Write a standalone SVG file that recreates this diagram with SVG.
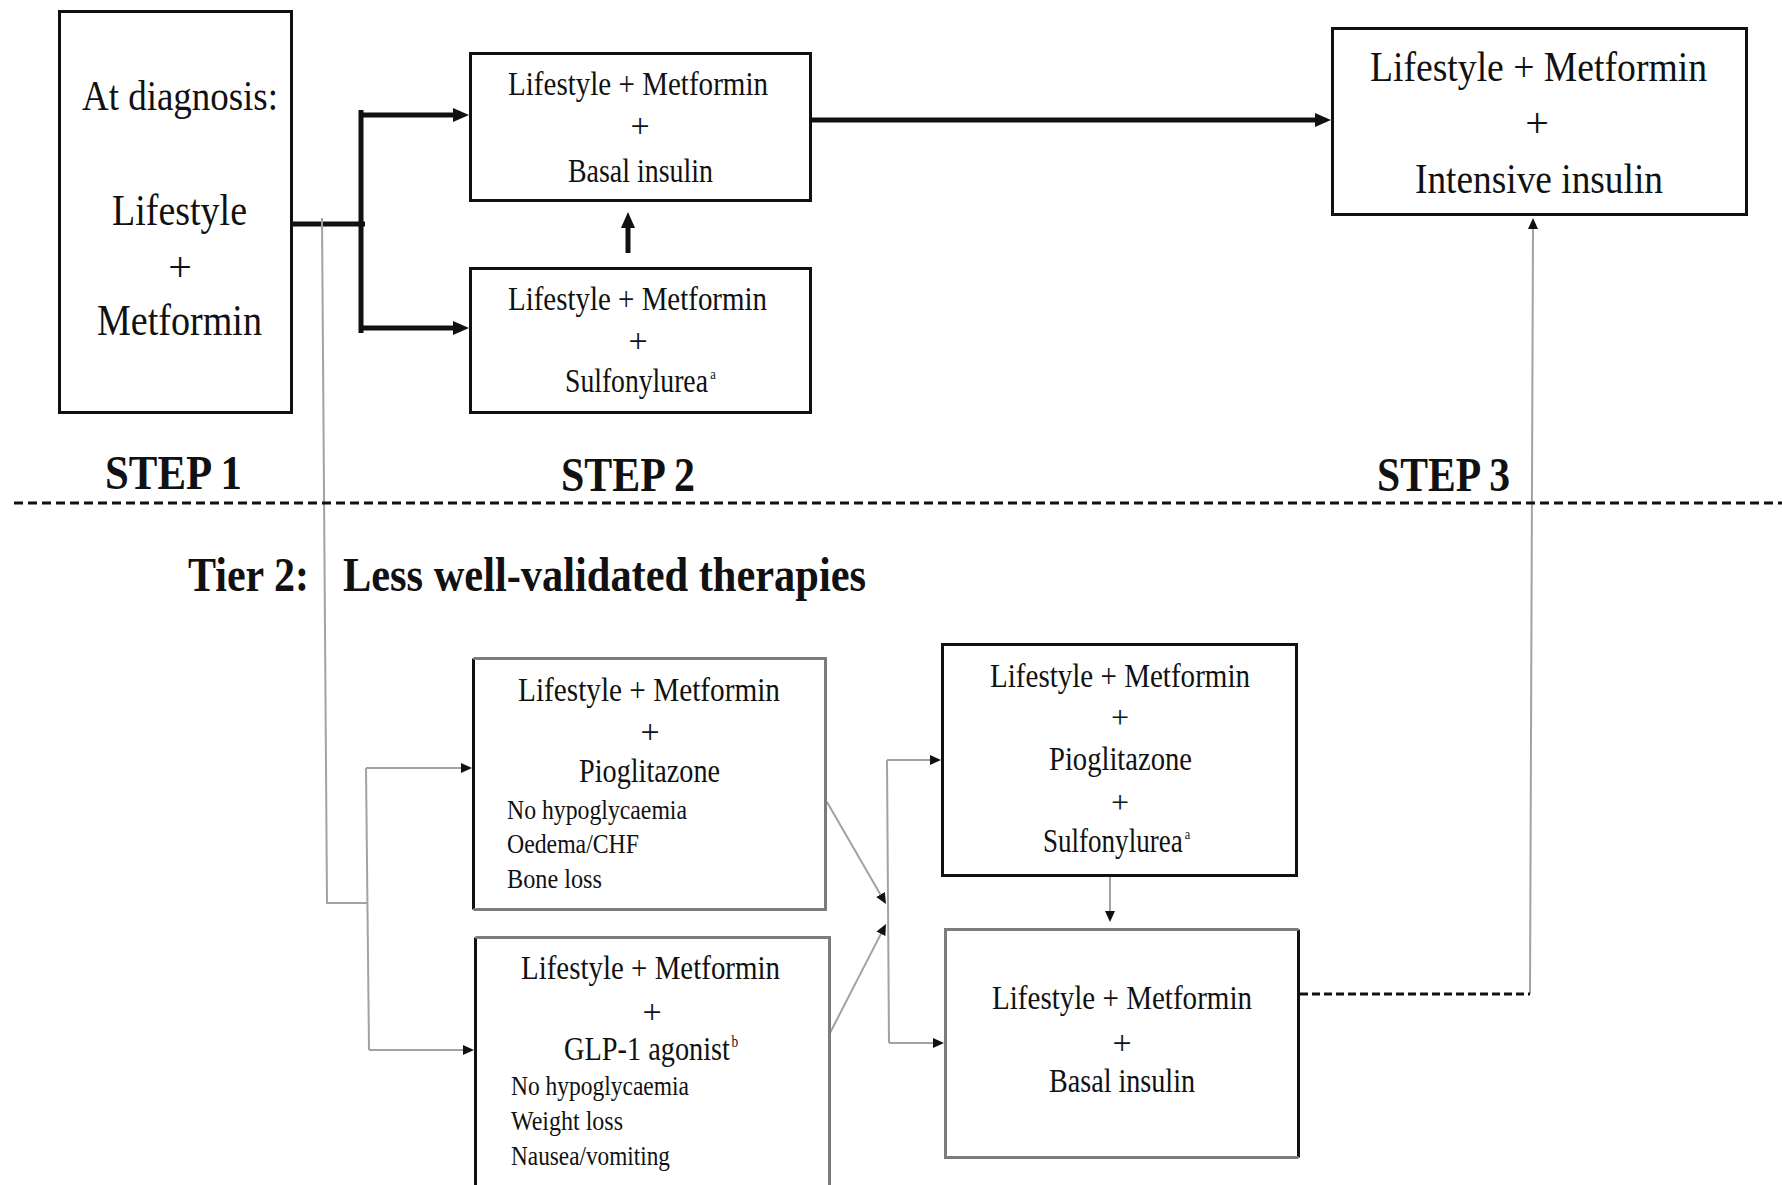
<svg xmlns="http://www.w3.org/2000/svg" width="1782" height="1185" viewBox="0 0 1782 1185">
<style>
.t{font-family:"Liberation Serif","Times New Roman",serif;fill:#111}
.b{font-weight:bold}
.box{fill:#fff;stroke:#111;stroke-width:3}
.ge{fill:none;stroke:#7c7c7c;stroke-width:3}
.thick{fill:none;stroke:#111;stroke-width:5}
.gray{fill:none;stroke:#a2a2a2;stroke-width:2}
.dash{fill:none;stroke:#111;stroke-width:3;stroke-dasharray:9 5}
</style>
<defs>
<marker id="big" markerUnits="userSpaceOnUse" markerWidth="16" markerHeight="14" viewBox="0 0 16 14" refX="2" refY="7" orient="auto"><path d="M0,0 L16,7 L0,14 z" fill="#111"/></marker>
<marker id="small" markerUnits="userSpaceOnUse" markerWidth="11" markerHeight="10" viewBox="0 0 11 10" refX="1" refY="5" orient="auto"><path d="M0,0 L11,5 L0,10 z" fill="#111"/></marker>
</defs>
<rect width="1782" height="1185" fill="#fff"/>

<g id="connectors">
<path class="thick" d="M293,224 H365"/>
<path class="thick" d="M361,110 V333"/>
<path class="thick" d="M361,115 H455" marker-end="url(#big)"/>
<path class="thick" d="M361,328 H455" marker-end="url(#big)"/>
<path class="thick" d="M628,253 V226" marker-end="url(#big)"/>
<path class="thick" d="M811,120 H1317" marker-end="url(#big)"/>
<path class="gray" d="M322,218 L327,903 H367"/>
<path class="gray" d="M366,768 L369,1050"/>
<path class="gray" d="M366,768 H462" marker-end="url(#small)"/>
<path class="gray" d="M369,1050 H464" marker-end="url(#small)"/>
<path class="gray" d="M827,802 L881,895.4" marker-end="url(#small)"/>
<path class="gray" d="M830,1033 L881.4,932.9" marker-end="url(#small)"/>
<path class="gray" d="M887,760 L889,1043"/>
<path class="gray" d="M887,760 H931" marker-end="url(#small)"/>
<path class="gray" d="M889,1043 H934" marker-end="url(#small)"/>
<path class="gray" d="M1110,877 V912" marker-end="url(#small)"/>
<path class="gray" d="M1530,994 L1533,228" marker-end="url(#small)"/>
<path class="dash" d="M1300,994 H1530" style="stroke-dasharray:8 4"/>
</g>

<g id="separator">
<path class="dash" d="M14,503 H1782"/>
</g>

<g id="labels">
<text class="t b" x="105" y="489" font-size="48" textLength="137" lengthAdjust="spacingAndGlyphs">STEP 1</text>
<text class="t b" x="561" y="491" font-size="48" textLength="134" lengthAdjust="spacingAndGlyphs">STEP 2</text>
<text class="t b" x="1377" y="491" font-size="48" textLength="133" lengthAdjust="spacingAndGlyphs">STEP 3</text>
<text class="t b" x="188" y="591" font-size="48" textLength="121" lengthAdjust="spacingAndGlyphs">Tier 2:</text>
<text class="t b" x="343" y="591" font-size="48" textLength="523" lengthAdjust="spacingAndGlyphs">Less well-validated therapies</text>
</g>

<g id="node-diagnosis">
<rect class="box" x="59.5" y="11.5" width="232" height="401"/>
<text class="t" x="82" y="110" font-size="42" textLength="196" lengthAdjust="spacingAndGlyphs">At diagnosis:</text>
<text class="t" x="112" y="225" font-size="44" textLength="135" lengthAdjust="spacingAndGlyphs">Lifestyle</text>
<text class="t" x="180" y="281" font-size="42" text-anchor="middle">+</text>
<text class="t" x="97" y="335" font-size="44" textLength="165" lengthAdjust="spacingAndGlyphs">Metformin</text>
</g>

<g id="node-basal">
<rect class="box" x="470.5" y="53.5" width="340" height="147"/>
<text class="t" x="508" y="95" font-size="33" textLength="260" lengthAdjust="spacingAndGlyphs">Lifestyle +  Metformin</text>
<text class="t" x="640" y="137" font-size="34" text-anchor="middle">+</text>
<text class="t" x="568" y="182" font-size="33" textLength="145" lengthAdjust="spacingAndGlyphs">Basal insulin</text>
</g>

<g id="node-sulfonylurea">
<rect class="box" x="470.5" y="268.5" width="340" height="144"/>
<text class="t" x="508" y="310" font-size="33" textLength="259" lengthAdjust="spacingAndGlyphs">Lifestyle +  Metformin</text>
<text class="t" x="638" y="352" font-size="34" text-anchor="middle">+</text>
<g transform="translate(565,392) scale(0.839,1)">
<text class="t" x="0" y="0" font-size="33">Sulfonylurea</text>
<text class="t" x="173" y="-13" font-size="15">a</text>
</g>
</g>

<g id="node-intensive">
<rect class="box" x="1332.5" y="28.5" width="414" height="186"/>
<text class="t" x="1370" y="81" font-size="43" textLength="337" lengthAdjust="spacingAndGlyphs">Lifestyle + Metformin</text>
<text class="t" x="1537" y="137" font-size="42" text-anchor="middle">+</text>
<text class="t" x="1415" y="193" font-size="43" textLength="248" lengthAdjust="spacingAndGlyphs">Intensive insulin</text>
</g>

<g id="node-pioglitazone">
<rect class="box" x="473.5" y="658.5" width="352" height="251" style="stroke:none"/>
<path d="M473.5,658.5 V909.5" style="fill:none;stroke:#111;stroke-width:3"/>
<path class="ge" d="M473.5,658.5 H825.5 V909.5 H473.5"/>
<text class="t" x="518" y="701" font-size="34" textLength="262" lengthAdjust="spacingAndGlyphs">Lifestyle +  Metformin</text>
<text class="t" x="650" y="743" font-size="34" text-anchor="middle">+</text>
<text class="t" x="579" y="782" font-size="34" textLength="141" lengthAdjust="spacingAndGlyphs">Pioglitazone</text>
<text class="t" x="507" y="819" font-size="28" textLength="180" lengthAdjust="spacingAndGlyphs">No hypoglycaemia</text>
<text class="t" x="507" y="853" font-size="28" textLength="132" lengthAdjust="spacingAndGlyphs">Oedema/CHF</text>
<text class="t" x="507" y="888" font-size="28" textLength="95" lengthAdjust="spacingAndGlyphs">Bone loss</text>
</g>

<g id="node-glp1">
<path d="M475.5,937.5 V1190" style="fill:none;stroke:#111;stroke-width:3"/>
<path class="ge" d="M475.5,937.5 H829.5 V1190"/>
<text class="t" x="521" y="979" font-size="34" textLength="259" lengthAdjust="spacingAndGlyphs">Lifestyle +  Metformin</text>
<text class="t" x="652" y="1023" font-size="34" text-anchor="middle">+</text>
<g transform="translate(564,1060) scale(0.833,1)">
<text class="t" x="0" y="0" font-size="34">GLP-1 agonist</text>
<text class="t" x="201" y="-13" font-size="16">b</text>
</g>
<text class="t" x="511" y="1095" font-size="28" textLength="178" lengthAdjust="spacingAndGlyphs">No hypoglycaemia</text>
<text class="t" x="511" y="1130" font-size="28" textLength="112" lengthAdjust="spacingAndGlyphs">Weight loss</text>
<text class="t" x="511" y="1165" font-size="28" textLength="159" lengthAdjust="spacingAndGlyphs">Nausea/vomiting</text>
</g>

<g id="node-pio-su">
<rect class="box" x="942.5" y="644.5" width="354" height="231"/>
<text class="t" x="990" y="687" font-size="34" textLength="260" lengthAdjust="spacingAndGlyphs">Lifestyle +  Metformin</text>
<text class="t" x="1120" y="728" font-size="32" text-anchor="middle">+</text>
<text class="t" x="1049" y="770" font-size="34" textLength="143" lengthAdjust="spacingAndGlyphs">Pioglitazone</text>
<text class="t" x="1120" y="813" font-size="32" text-anchor="middle">+</text>
<g transform="translate(1043,852) scale(0.82,1)">
<text class="t" x="0" y="0" font-size="33">Sulfonylurea</text>
<text class="t" x="173" y="-13" font-size="15">a</text>
</g>
</g>

<g id="node-basal-tier2">
<rect class="box" x="945.5" y="929.5" width="353" height="228" style="stroke:none"/>
<path d="M1298.5,929.5 V1157.5" style="fill:none;stroke:#111;stroke-width:3"/>
<path class="ge" d="M1298.5,929.5 H945.5 V1157.5 H1298.5"/>
<text class="t" x="992" y="1009" font-size="34" textLength="260" lengthAdjust="spacingAndGlyphs">Lifestyle +  Metformin</text>
<text class="t" x="1122" y="1054" font-size="34" text-anchor="middle">+</text>
<text class="t" x="1049" y="1092" font-size="34" textLength="146" lengthAdjust="spacingAndGlyphs">Basal insulin</text>
</g>
</svg>
